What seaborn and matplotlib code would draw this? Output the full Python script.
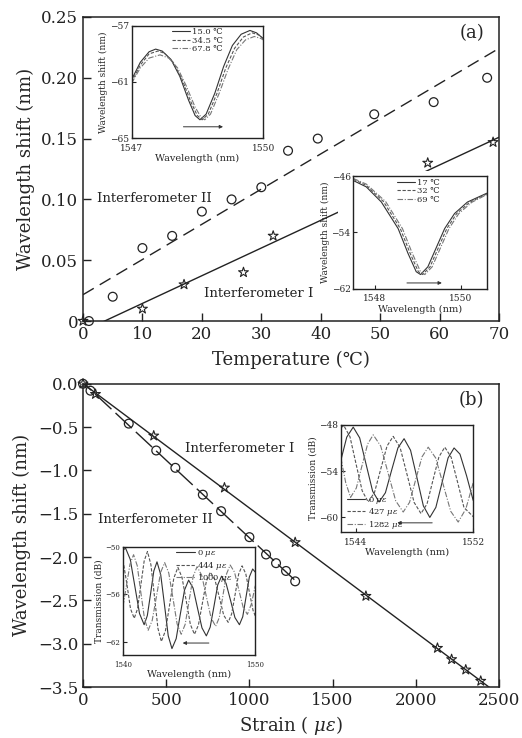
import matplotlib
matplotlib.use("Agg")
import matplotlib.pyplot as plt
from matplotlib.patches import Rectangle
import seaborn as sns

# ---- panel (a): temperature response ----
temp_i = [0, 10, 17, 27, 32, 58, 69]
shift_i = [0, 0.01, 0.03, 0.04, 0.07, 0.13, 0.147]
temp_ii = [1, 5, 10, 15, 20, 25, 30, 34.5, 39.5, 49, 59, 68]
shift_ii = [0, 0.02, 0.06, 0.07, 0.09, 0.10, 0.11, 0.14, 0.15, 0.17, 0.18, 0.20]

# ---- panel (b): strain response ----
strain_i = [0, 75, 425, 850, 1275, 1700, 2130, 2215, 2300, 2390]
sshift_i = [0, -0.12, -0.60, -1.20, -1.83, -2.45, -3.05, -3.18, -3.30, -3.43]
strain_ii = [0, 45, 275, 440, 555, 720, 830, 1000, 1100, 1160, 1220, 1275]
sshift_ii = [0, -0.08, -0.46, -0.77, -0.97, -1.28, -1.47, -1.77, -1.97, -2.07, -2.16, -2.28]

# inset a1 spectra (15.0 / 34.5 / 67.8 C)
a1_wl_15 = [1547.0, 1547.2, 1547.4, 1547.55, 1547.7, 1547.9, 1548.1, 1548.3, 1548.45, 1548.56,
            1548.7, 1548.9, 1549.1, 1549.3, 1549.5, 1549.7, 1549.85, 1550.0]
a1_db_15 = [-60.85, -59.6, -58.85, -58.66, -58.8, -59.4, -60.6, -62.3, -63.4, -63.7,
            -63.3, -61.8, -59.9, -58.4, -57.6, -57.33, -57.5, -57.9]
a1_wl_34 = [1547.0, 1547.2, 1547.4, 1547.6, 1547.75, 1547.95, 1548.15, 1548.35, 1548.5, 1548.61,
            1548.75, 1548.95, 1549.15, 1549.35, 1549.55, 1549.75, 1549.9, 1550.0]
a1_db_34 = [-61.0, -59.8, -59.0, -58.8, -58.95, -59.6, -60.8, -62.4, -63.4, -63.7,
            -63.3, -61.8, -60.0, -58.6, -57.8, -57.5, -57.65, -57.9]
a1_wl_67 = [1547.0, 1547.2, 1547.4, 1547.65, 1547.85, 1548.05, 1548.25, 1548.45, 1548.58, 1548.67,
            1548.8, 1549.0, 1549.2, 1549.4, 1549.6, 1549.8, 1549.95, 1550.0]
a1_db_67 = [-61.1, -60.0, -59.3, -59.07, -59.3, -60.0, -61.3, -62.8, -63.5, -63.7,
            -63.3, -61.8, -60.1, -58.7, -58.0, -57.76, -57.9, -58.0]

# inset a2 spectra (17 / 32 / 69 C)
a2_wl_17 = [1547.5, 1547.8, 1548.15, 1548.54, 1548.77, 1548.96, 1549.06, 1549.23, 1549.38,
            1549.62, 1549.85, 1550.15, 1550.6]
a2_db_17 = [-46.6, -47.5, -49.66, -53.45, -57.0, -59.6, -60.0, -58.9, -56.8,
            -53.45, -51.3, -49.66, -48.4]
a2_wl_32 = [1547.5, 1547.8, 1548.2, 1548.59, 1548.82, 1549.01, 1549.11, 1549.28, 1549.43,
            1549.67, 1549.9, 1550.2, 1550.6]
a2_db_32 = [-46.4, -47.3, -49.6, -53.45, -57.0, -59.6, -60.0, -58.9, -56.8,
            -53.45, -51.3, -49.7, -48.5]
a2_wl_69 = [1547.5, 1547.8, 1548.25, 1548.64, 1548.87, 1549.06, 1549.16, 1549.33, 1549.48,
            1549.72, 1549.95, 1550.25, 1550.6]
a2_db_69 = [-46.3, -47.1, -49.6, -53.45, -57.0, -59.6, -60.0, -58.9, -56.8,
            -53.45, -51.3, -49.7, -48.6]

# inset b1 spectra (0 / 427 / 1282 ue)
b1_wl_0 = [1543.0, 1543.4, 1543.84, 1544.28, 1544.72, 1545.16, 1545.6, 1546.03, 1546.45, 1546.88,
           1547.3, 1547.74, 1548.18, 1548.61, 1549.05, 1549.46, 1549.88, 1550.29, 1550.7,
           1551.1, 1551.55, 1552.0]
b1_db_0 = [-52.6, -49.6, -48.3, -49.7, -53.15, -56.6, -58.0, -56.8, -53.9, -51.0,
           -49.8, -51.3, -54.9, -58.5, -60.0, -58.7, -55.5, -52.3, -51.0,
           -51.8, -54.6, -57.8]
b1_wl_427 = [1543.0, 1543.2, 1543.62, 1544.03, 1544.45, 1544.86, 1545.29, 1545.71, 1546.14, 1546.56,
             1547.03, 1547.51, 1547.98, 1548.45, 1548.86, 1549.26, 1549.67, 1550.07,
             1550.5, 1550.94, 1551.37, 1552.0]
b1_db_427 = [-48.4, -48.1, -49.55, -53.05, -56.55, -58.0, -56.75, -53.75, -50.75, -49.5,
             -50.95, -54.5, -58.05, -59.5, -58.25, -55.2, -52.15, -50.9,
             -52.2, -55.45, -58.7, -59.9]
b1_wl_1282 = [1543.0, 1543.33, 1543.66, 1544.05, 1544.43, 1544.82, 1545.2, 1545.71, 1546.22, 1546.73,
              1547.24, 1547.67, 1548.09, 1548.52, 1548.94, 1549.45, 1549.96, 1550.47, 1550.98,
              1551.5, 1552.0]
b1_db_1282 = [-52.3, -55.5, -57.4, -56.2, -53.35, -50.5, -49.3, -50.75, -54.3, -57.85,
              -59.3, -58.05, -55.1, -52.15, -50.9, -52.3, -55.75, -59.2, -60.6,
              -58.9, -55.5]

# inset b2 spectra (0 / 444 / 1000 ue)
b2_wl_0 = [1540.0, 1540.2, 1540.55, 1540.9, 1541.25, 1541.6, 1541.84, 1542.09, 1542.33, 1542.57,
           1542.85, 1543.14, 1543.42, 1543.7, 1544.02, 1544.33, 1544.65, 1544.96,
           1545.3, 1545.63, 1545.97, 1546.3, 1546.59, 1546.88, 1547.16, 1547.45,
           1547.79, 1548.13, 1548.46, 1548.8, 1549.05, 1549.3, 1549.55, 1549.8, 1550.0]
b2_db_0 = [-50.4, -50.2, -51.6, -55.0, -58.4, -59.8, -58.65, -55.85, -53.05, -51.9,
           -53.5, -57.35, -61.2, -62.8, -61.55, -58.5, -55.45, -54.2,
           -55.2, -57.7, -60.2, -61.2, -60.1, -57.45, -54.8, -53.7,
           -54.6, -56.75, -58.9, -59.8, -58.8, -56.3, -53.8, -52.8, -53.2]
b2_wl_444 = [1540.0, 1540.3, 1540.57, 1540.85, 1541.1, 1541.35, 1541.6, 1541.85,
             1542.11, 1542.38, 1542.64, 1542.9, 1543.21, 1543.53, 1543.84, 1544.15,
             1544.46, 1544.78, 1545.09, 1545.4, 1545.7, 1546.0, 1546.3, 1546.6,
             1546.94, 1547.28, 1547.61, 1547.95, 1548.21, 1548.48, 1548.74, 1549.0,
             1549.28, 1549.55, 1549.83, 1550.0]
b2_db_444 = [-51.7, -54.75, -57.8, -59.0, -57.8, -54.8, -51.8, -50.6,
             -52.25, -56.25, -60.25, -61.9, -60.55, -57.25, -53.95, -52.6,
             -53.85, -56.8, -59.75, -61.0, -59.85, -57.1, -54.35, -53.2,
             -54.1, -56.35, -58.6, -59.5, -58.45, -55.95, -53.45, -52.4,
             -53.4, -55.7, -58.0, -58.7]
b2_wl_1000 = [1540.0, 1540.25, 1540.53, 1540.8, 1541.08, 1541.35, 1541.63, 1541.9,
              1542.21, 1542.53, 1542.84, 1543.15, 1543.46, 1543.78, 1544.09, 1544.4,
              1544.7, 1545.0, 1545.3, 1545.6, 1545.95, 1546.3, 1546.65, 1547.0,
              1547.28, 1547.55, 1547.83, 1548.1, 1548.43, 1548.75, 1549.08, 1549.4,
              1549.7, 1550.0]
b2_db_1000 = [-57.5, -55.0, -52.2, -51.0, -52.4, -55.75, -59.1, -60.5,
              -59.25, -56.25, -53.25, -52.0, -53.3, -56.5, -59.7, -61.0,
              -59.75, -56.75, -53.75, -52.5, -53.6, -56.25, -58.9, -60.0,
              -58.9, -56.15, -53.4, -52.3, -53.2, -55.4, -57.6, -58.5,
              -57.2, -54.9]

sns.set_style("ticks")
plt.rcParams["font.family"] = ["DejaVu Serif", "DejaVu Sans"]
plt.rcParams["mathtext.fontset"] = "dejavuserif"
plt.rcParams["axes.linewidth"] = 1.1
plt.rcParams["axes.edgecolor"] = "#222222"

fig = plt.figure(figsize=(5.22, 7.38), dpi=100)
ax_a = fig.add_axes([0.159, 0.565, 0.797, 0.412])
ax_b = fig.add_axes([0.159, 0.069, 0.797, 0.411])


def style_main(ax):
    ax.tick_params(direction="in", length=6, width=1, labelsize=12, colors="#222222")
    for s in ax.spines.values():
        s.set_visible(True)


def add_inset(rect, wl_list, db_list, labels, xlim, ylim, xticks, yticks, ylabel,
              legend_anchor, legend_loc, arrow, tick_fs=6.5):
    ins = fig.add_axes(rect)
    ins.set_facecolor("white")
    colors = ["#333333", "#555555", "#777777"]
    styles = ["-", (0, (3, 1.5)), (0, (5, 1.5, 1, 1.5))]
    for wl, db, lab, c, st in zip(wl_list, db_list, labels, colors, styles):
        sns.lineplot(x=wl, y=db, ax=ins, color=c, lw=0.8, linestyle=st, label=lab)
    ins.set_xlim(*xlim)
    ins.set_ylim(*ylim)
    ins.set_xticks(xticks)
    ins.set_yticks(yticks)
    ins.tick_params(direction="in", length=3, width=0.8, labelsize=tick_fs, pad=2)
    ins.tick_params(axis="x", pad=4)
    ins.set_xlabel("Wavelength (nm)", fontsize=7, labelpad=1)
    ins.set_ylabel(ylabel, fontsize=6.5, labelpad=1)
    for s in ins.spines.values():
        s.set_linewidth(1.0)
    ins.legend(loc=legend_loc, bbox_to_anchor=legend_anchor, frameon=False, fontsize=6,
               handlelength=2.2, labelspacing=0.05, handletextpad=0.3, borderpad=0.2)
    ins.annotate("", xy=arrow[1], xytext=arrow[0],
                 arrowprops=dict(arrowstyle="-|>", lw=0.7, color="#333333",
                                 mutation_scale=5))
    return ins


# ---- panel (a) ----
ax_a.set_xlim(0, 70)
ax_a.set_ylim(0, 0.25)
sns.regplot(x=temp_ii, y=shift_ii, ax=ax_a, scatter=False, ci=None, truncate=False,
            line_kws=dict(color="#222222", lw=1.0, linestyle=(0, (9, 5))))
sns.regplot(x=temp_i, y=shift_i, ax=ax_a, scatter=False, ci=None, truncate=False,
            line_kws=dict(color="#222222", lw=1.0))
# white area behind the inset (hides the fit line there)
ax_a.add_patch(Rectangle((0.613, 0.082), 0.38, 0.41, transform=ax_a.transAxes,
                         facecolor="white", edgecolor="none", zorder=3))
sns.scatterplot(x=temp_ii, y=shift_ii, ax=ax_a, marker="o", s=40, facecolor="none",
                edgecolor="#222222", linewidth=0.9, clip_on=False, zorder=5)
sns.scatterplot(x=temp_i, y=shift_i, ax=ax_a, marker="*", s=55, facecolor="none",
                edgecolor="#222222", linewidth=0.8, clip_on=False, zorder=5)
ax_a.set_xlim(0, 70)
ax_a.set_ylim(0, 0.25)
ax_a.set_xticks(range(0, 71, 10))
ax_a.set_yticks([0, 0.05, 0.10, 0.15, 0.20, 0.25])
ax_a.set_yticklabels(["0", "0.05", "0.10", "0.15", "0.20", "0.25"])
style_main(ax_a)
ax_a.set_xlabel("Temperature (℃)", fontsize=13, labelpad=6)
ax_a.set_ylabel("Wavelength shift (nm)", fontsize=13, labelpad=4)
ax_a.text(2.3, 0.101, "Interferometer II", fontsize=9.5, va="center", ha="left")
ax_a.text(20.3, 0.023, "Interferometer I", fontsize=9.5, va="center", ha="left", zorder=4)
ax_a.text(0.965, 0.975, "(a)", transform=ax_a.transAxes, fontsize=13, ha="right", va="top")

add_inset([0.252, 0.813, 0.252, 0.152], [a1_wl_15, a1_wl_34, a1_wl_67],
          [a1_db_15, a1_db_34, a1_db_67], ["15.0 ℃", "34.5 ℃", "67.8 ℃"],
          (1547, 1550), (-65, -57), [1547, 1550], [-65, -61, -57],
          "Wavelength shift (nm)", (0.26, 1.03), "upper left",
          ((1548.12, -64.2), (1549.15, -64.2)))
add_inset([0.677, 0.609, 0.2556, 0.152], [a2_wl_17, a2_wl_32, a2_wl_69],
          [a2_db_17, a2_db_32, a2_db_69], ["17 ℃", "32 ℃", "69 ℃"],
          (1547.5, 1550.6), (-62, -46), [1548, 1550], [-62, -54, -46],
          "Wavelength shift (nm)", (0.28, 1.03), "upper left",
          ((1548.68, -61.2), (1549.62, -61.2)))

# ---- panel (b) ----
ax_b.set_xlim(0, 2500)
ax_b.set_ylim(-3.5, 0)
sns.regplot(x=strain_i, y=sshift_i, ax=ax_b, scatter=False, ci=None, truncate=False,
            line_kws=dict(color="#222222", lw=1.0))
sns.regplot(x=strain_ii, y=sshift_ii, ax=ax_b, scatter=False, ci=None, truncate=True,
            line_kws=dict(color="#222222", lw=1.0, linestyle=(8, (16, 4))))
sns.scatterplot(x=strain_ii, y=sshift_ii, ax=ax_b, marker="o", s=40, facecolor="none",
                edgecolor="#222222", linewidth=0.9, clip_on=False, zorder=5)
sns.scatterplot(x=strain_i, y=sshift_i, ax=ax_b, marker="*", s=55, facecolor="none",
                edgecolor="#222222", linewidth=0.8, clip_on=False, zorder=5)
ax_b.set_xlim(0, 2500)
ax_b.set_ylim(-3.5, 0)
ax_b.set_xticks(range(0, 2501, 500))
ax_b.set_yticks([0, -0.5, -1.0, -1.5, -2.0, -2.5, -3.0, -3.5])
style_main(ax_b)
ax_b.set_xlabel(r"Strain ( $\mu\varepsilon$)", fontsize=13, labelpad=4)
ax_b.set_ylabel("Wavelength shift (nm)", fontsize=13, labelpad=5)
ax_b.text(610, -0.75, "Interferometer I", fontsize=9.5, va="center", ha="left")
ax_b.text(92, -1.57, "Interferometer II", fontsize=9.5, va="center", ha="left")
ax_b.text(0.965, 0.975, "(b)", transform=ax_b.transAxes, fontsize=13, ha="right", va="top")

add_inset([0.653, 0.279, 0.2535, 0.1454], [b1_wl_0, b1_wl_427, b1_wl_1282],
          [b1_db_0, b1_db_427, b1_db_1282],
          [r"0 $\mu\varepsilon$", r"427 $\mu\varepsilon$", r"1282 $\mu\varepsilon$"],
          (1543, 1552), (-61.9, -48), [1544, 1552], [-60, -54, -48],
          "Transmission (dB)", (0.0, -0.04), "lower left",
          ((1549.4, -60.7), (1546.65, -60.7)))
add_inset([0.2356, 0.1125, 0.2535, 0.1467], [b2_wl_0, b2_wl_444, b2_wl_1000],
          [b2_db_0, b2_db_444, b2_db_1000],
          [r"0 $\mu\varepsilon$", r"444 $\mu\varepsilon$", r"1000 $\mu\varepsilon$"],
          (1540, 1550), (-63.6, -50), [1540, 1550], [-62, -56, -50],
          "Transmission (dB)", (0.36, 1.04), "upper left",
          ((1546.7, -62.1), (1544.3, -62.1)), tick_fs=5)

fig.savefig("out.png", dpi=100)
